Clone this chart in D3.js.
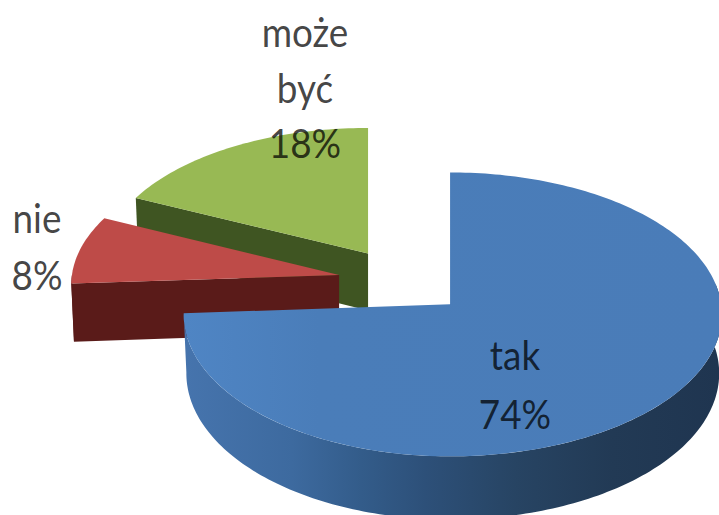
<!DOCTYPE html>
<html>
<head>
<meta charset="utf-8">
<script src="https://d3js.org/d3.v7.min.js"></script>
<style>
  html, body { margin: 0; padding: 0; background: #fff; overflow: hidden; }
  text { font-family: Lato, "Open Sans", sans-serif; font-size: 41px; fill: #000; fill-opacity: 0.74; text-anchor: middle; }
</style>
</head>
<body>
<div id="chart"></div>
<script>
// chart values
const categories = ["tak", "nie", "może być"];
const values = [74, 8, 18];
const percentLabels = ["74%", "8%", "18%"];

const width = 719, height = 515;
const centerX = 402.8, centerY = 281.2;
const radiusX = 268, radiusY = 138;
const explode = 0.242;   // how far the slices are pulled out
const persp = 0.07;      // things closer to the viewer get bigger
const depth = 58;

const topColors = ["url(#blueTop)", "#be4b48", "#98b954"];
const wallColors = ["url(#blueWall)", "#5a1b19", "#3f5522"];

// draw order: far slices first so the blue one sits on top
const drawOrder = [2, 1, 0];

// label lines and where they sit
const labelPos = [
  { x: 515, lines: [categories[0], percentLabels[0]], ys: [370, 429] },
  { x: 37, lines: [categories[1], percentLabels[1]], ys: [233, 290] },
  { x: 305, lines: ["może", "być", percentLabels[2]], ys: [47, 103, 158] }
];

const svg = d3.select("#chart").append("svg")
  .attr("width", width)
  .attr("height", height)
  .style("display", "block");

const x = d3.scaleLinear().domain([-1, 1]).range([centerX - radiusX, centerX + radiusX]);
const y = d3.scaleLinear().domain([-1, 1]).range([centerY - radiusY, centerY + radiusY]);

const defs = svg.append("defs");

function addGradient(id, stops, x1, x2) {
  const g = defs.append("linearGradient")
    .attr("id", id)
    .attr("gradientUnits", "userSpaceOnUse")
    .attr("x1", x1).attr("x2", x2).attr("y1", 0).attr("y2", 0);
  stops.forEach(s => g.append("stop").attr("offset", s[0]).attr("stop-color", s[1]));
}
addGradient("blueTop", [[0, "#4f85c4"], [0.25, "#4a7db9"], [1, "#4a7cb8"]], 185, 719);
addGradient("blueWall", [
  [0, "#4674ad"], [0.2, "#3d6a9f"], [0.33, "#335c8a"], [0.45, "#2d5079"],
  [0.62, "#274463"], [0.8, "#223a55"], [1, "#1f3550"]
], 185, 719);

const pie = d3.pie().sort(null).value(d => d);
const arcs = pie(values);
arcs.forEach(a => {
  const mid = (a.startAngle + a.endAngle) / 2;
  a.ox = explode * Math.sin(mid);
  a.oy = -explode * Math.cos(mid);
});

// point on a slice (su, sv from its tip) -> screen point
function project(a, su, sv, drop) {
  const v = a.oy + sv;
  const f = 1 / (1 - persp * v);
  const shrink = drop ? 0.99 : 1;
  return [x(a.ox + su * f * shrink), y(v * f) + (drop ? depth * f : 0)];
}

const line = d3.line();

function rimPoints(a, from, to, drop) {
  // the big slice is a touch narrower on its left side
  const left = a.index === 0 ? 0.98 : 1;
  const n = Math.max(1, Math.ceil(Math.abs(to - from) / 0.02));
  return d3.range(n + 1).map(i => {
    const t = from + (to - from) * i / n;
    const s = Math.sin(t);
    return project(a, s < 0 ? s * left : s, -Math.cos(t), drop);
  });
}

drawOrder.forEach(i => {
  const a = arcs[i];
  const g = svg.append("g").attr("class", "slice");

  // cut face of the small slices
  if (i !== 0) {
    const p = rimPoints(a, a.startAngle, a.startAngle, false)[0];
    const q = rimPoints(a, a.startAngle, a.startAngle, true)[0];
    g.append("path")
      .attr("d", line([project(a, 0, 0, false), p, q, project(a, 0, 0, true)]) + "Z")
      .attr("fill", wallColors[i]);
  }

  // outer wall, only the part turned to the viewer
  const wallFrom = i === 0 ? Math.PI / 2 - 0.15 : a.startAngle;
  const wallTo = Math.min(a.endAngle, Math.PI * 1.5);
  if (wallTo > wallFrom) {
    const upper = rimPoints(a, wallFrom, wallTo, false);
    const lower = rimPoints(a, wallFrom, wallTo, true).reverse();
    g.append("path")
      .attr("d", line(upper.concat(lower)) + "Z")
      .attr("fill", wallColors[i]);
  }

  // top surface
  g.append("path")
    .attr("d", line([project(a, 0, 0, false)].concat(rimPoints(a, a.startAngle, a.endAngle, false))) + "Z")
    .attr("fill", topColors[i]);
});

// labels
labelPos.forEach((l, i) => {
  const t = svg.append("g").attr("class", "label").attr("data-value", values[i]);
  t.selectAll("text")
    .data(l.lines)
    .enter().append("text")
    .attr("transform", (d, k) => `translate(${l.x},${l.ys[k]}) scale(0.9,1)`)
    .text(d => d);
});
</script>
</body>
</html>
